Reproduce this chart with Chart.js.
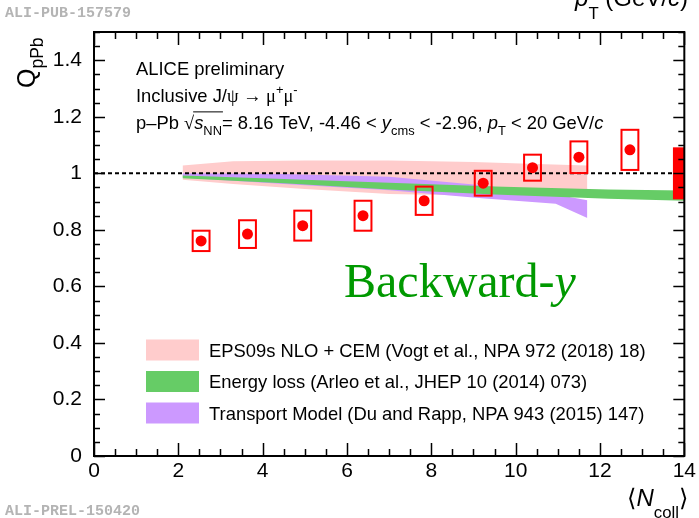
<!DOCTYPE html>
<html>
<head>
<meta charset="utf-8">
<title>Inclusive J/psi Q_pPb vs Ncoll</title>
<script src="https://cdn.jsdelivr.net/npm/chart.js@4.4.0/dist/chart.umd.min.js"></script>
<style>
  html, body { margin: 0; padding: 0; background: #fff; }
  #wrap { width: 699px; height: 518px; }
</style>
</head>
<body>
<div id="wrap"><canvas id="qppb" width="699" height="518"></canvas></div>
<script>
// ALICE points: <Ncoll>, Q_pPb and systematic half-height of the boxes
const nColl = [2.54, 3.64, 4.95, 6.38, 7.83, 9.23, 10.4, 11.5, 12.71];
const qpPb  = [0.761, 0.785, 0.815, 0.85, 0.903, 0.965, 1.02, 1.057, 1.083];
const qSyst = [0.036, 0.049, 0.053, 0.053, 0.05, 0.044, 0.046, 0.056, 0.071];
const boxHalfWidth = 0.2;
const globalX = 14, globalHalf = 0.092, globalHalfWidth = 0.27;

// EPS09s NLO + CEM
const epsN    = [2.1, 3.3, 5, 7, 9, 10.5, 11.7];
const epsLow  = [0.977, 0.962, 0.945, 0.927, 0.922, 0.93, 0.94];
const epsHigh = [1.028, 1.043, 1.045, 1.045, 1.04, 1.033, 1.028];

// Energy loss
const elossN    = [2.1, 4.5, 7, 9.5, 12.2, 14];
const elossLow  = [0.983, 0.965, 0.943, 0.925, 0.91, 0.903];
const elossHigh = [0.992, 0.98, 0.967, 0.953, 0.943, 0.939];

// Transport model
const transpN    = [2.1, 4.5, 7, 9.2, 10.95, 11.7];
const transpLow  = [0.985, 0.962, 0.94, 0.912, 0.892, 0.842];
const transpHigh = [1.0, 0.998, 0.988, 0.958, 0.925, 0.905];

const xTicks = [0, 2, 4, 6, 8, 10, 12, 14];
const yTicks = [0, 0.2, 0.4, 0.6, 0.8, 1, 1.2, 1.4];

const COL_EPS = '#ffcccc', COL_ELOSS = '#66cc66', COL_TRANSP = '#cc99ff', COL_DATA = '#ff0000';

const legendRows = [
  { color: COL_EPS,    text: 'EPS09s NLO + CEM (Vogt et al., NPA 972 (2018) 18)' },
  { color: COL_ELOSS,  text: 'Energy loss (Arleo et al., JHEP 10 (2014) 073)' },
  { color: COL_TRANSP, text: 'Transport Model (Du and Rapp, NPA 943 (2015) 147)' }
];

const SANS = '"Liberation Sans", Arial, Helvetica, sans-serif';
const SERIF = '"Liberation Serif", "Times New Roman", serif';
const TXT = 18.4;

// two line datasets, the upper one filled down to the lower one
function band(label, xs, lo, hi, color, order) {
  return [
    { label: label + ' low', data: xs.map((x, i) => ({ x: x, y: lo[i] })),
      borderWidth: 0, borderColor: 'transparent', pointRadius: 0, fill: false, order: order, tension: 0 },
    { label: label, data: xs.map((x, i) => ({ x: x, y: hi[i] })),
      borderWidth: 0, borderColor: 'transparent', pointRadius: 0, backgroundColor: color,
      fill: '-1', order: order, tension: 0 }
  ];
}

// text with sub/superscripts, italic and serif runs
function drawRich(ctx, x, y, runs, size, align) {
  const fontOf = r => {
    const fs = (r.sub || r.sup) ? size * 0.7 : size;
    return (r.it ? 'italic ' : '') + fs + 'px ' + (r.serif ? SERIF : SANS);
  };
  const widths = runs.map(r => { ctx.font = fontOf(r); return ctx.measureText(r.t).width; });
  const total = widths.reduce((a, b) => a + b, 0);
  let cx = align === 'right' ? x - total : x;
  let overStart = null, overEnd = null;
  ctx.textAlign = 'left';
  ctx.textBaseline = 'alphabetic';
  runs.forEach((r, i) => {
    ctx.font = fontOf(r);
    const dy = r.sub ? size * (r.drop || 0.3) : (r.sup ? -size * 0.42 : 0);
    ctx.fillText(r.t, cx, y + dy);
    if (r.over) {
      if (overStart === null) overStart = cx;
      overEnd = cx + widths[i];
    }
    cx += widths[i];
  });
  if (overStart !== null) {
    ctx.save();
    ctx.lineWidth = 1;
    ctx.strokeStyle = ctx.fillStyle;
    ctx.beginPath();
    ctx.moveTo(overStart - 1, y - size * 0.93);
    ctx.lineTo(overEnd + 1, y - size * 0.93);
    ctx.stroke();
    ctx.restore();
  }
}

// systematic boxes and the global box at the right edge
const boxesPlugin = {
  id: 'boxes',
  afterDatasetsDraw(chart) {
    const ctx = chart.ctx, xs = chart.scales.x, ys = chart.scales.y, area = chart.chartArea;
    ctx.save();
    ctx.beginPath();
    ctx.rect(area.left, area.top, area.right - area.left, area.bottom - area.top);
    ctx.clip();
    ctx.strokeStyle = COL_DATA;
    ctx.lineWidth = 2;
    nColl.forEach((n, i) => {
      const x0 = xs.getPixelForValue(n - boxHalfWidth), x1 = xs.getPixelForValue(n + boxHalfWidth);
      const y0 = ys.getPixelForValue(qpPb[i] + qSyst[i]), y1 = ys.getPixelForValue(qpPb[i] - qSyst[i]);
      ctx.strokeRect(x0, y0, x1 - x0, y1 - y0);
    });
    ctx.fillStyle = COL_DATA;
    const gx0 = xs.getPixelForValue(globalX - globalHalfWidth), gx1 = xs.getPixelForValue(globalX + globalHalfWidth);
    const gy0 = ys.getPixelForValue(1 + globalHalf), gy1 = ys.getPixelForValue(1 - globalHalf);
    ctx.fillRect(gx0, gy0, gx1 - gx0, gy1 - gy0);
    ctx.restore();
  }
};

// frame with inward ticks on all four sides, plus the labels and legend
const framePlugin = {
  id: 'frame',
  afterDraw(chart) {
    const ctx = chart.ctx, xs = chart.scales.x, ys = chart.scales.y, a = chart.chartArea;
    ctx.save();
    ctx.strokeStyle = '#000';
    ctx.lineWidth = 2;
    ctx.strokeRect(a.left, a.top, a.right - a.left, a.bottom - a.top);
    ctx.lineWidth = 1.5;
    ctx.beginPath();
    for (let k = 0; k <= 28; k++) {
      const v = k * 0.5, px = Math.round(xs.getPixelForValue(v)) + 0.5;
      const len = (k % 4 === 0) ? 13 : 7;
      ctx.moveTo(px, a.bottom); ctx.lineTo(px, a.bottom - len);
      ctx.moveTo(px, a.top); ctx.lineTo(px, a.top + len);
    }
    for (let k = 0; k <= 30; k++) {
      const v = k * 0.05, py = Math.round(ys.getPixelForValue(v)) + 0.5;
      const len = (k % 4 === 0) ? 11 : 6;
      ctx.moveTo(a.left, py); ctx.lineTo(a.left + len, py);
      ctx.moveTo(a.right, py); ctx.lineTo(a.right - len, py);
    }
    ctx.stroke();

    ctx.fillStyle = '#000';
    drawRich(ctx, 136, 75, [{ t: 'ALICE preliminary' }], TXT);
    drawRich(ctx, 136, 102, [
      { t: 'Inclusive J/' }, { t: 'ψ', serif: true }, { t: ' → ', serif: true },
      { t: 'μ', serif: true }, { t: '+', sup: true }, { t: 'μ', serif: true }, { t: '-', sup: true }
    ], TXT);
    drawRich(ctx, 136, 129, [
      { t: 'p–Pb ' }, { t: '√', serif: true }, { t: 's', it: true, over: true }, { t: 'NN', sub: true, over: true },
      { t: '= 8.16 TeV, -4.46 < ' }, { t: 'y', it: true }, { t: 'cms', sub: true },
      { t: ' < -2.96, ' }, { t: 'p', it: true }, { t: 'T', sub: true },
      { t: ' < 20 GeV/' }, { t: 'c', it: true }
    ], TXT);

    // legend
    legendRows.forEach((row, i) => {
      const cy = 350 + i * 31.5;
      ctx.fillStyle = row.color;
      ctx.fillRect(146, cy - 10.5, 53, 21);
      ctx.fillStyle = '#000';
      drawRich(ctx, 209, cy + 6.5, [{ t: row.text }], TXT);
    });

    // rapidity tag
    ctx.fillStyle = '#009900';
    ctx.font = '48px ' + SERIF;
    ctx.textAlign = 'left';
    ctx.fillText('Backward-', 344, 297);
    const bw = ctx.measureText('Backward-').width;
    ctx.font = 'italic 48px ' + SERIF;
    ctx.fillText('y', 344 + bw, 297);

    // axis titles
    ctx.fillStyle = '#000';
    drawRich(ctx, 688, 6, [
      { t: 'p', it: true }, { t: 'T', sub: true, drop: 0.55 }, { t: ' (GeV/' }, { t: 'c', it: true }, { t: ')' }
    ], 24, 'right');
    drawRich(ctx, 688, 506, [
      { t: '⟨' }, { t: 'N', it: true }, { t: 'coll', sub: true, drop: 0.48 }, { t: '⟩' }
    ], 24, 'right');
    ctx.save();
    ctx.translate(35, 88);
    ctx.rotate(-Math.PI / 2);
    drawRich(ctx, 0, 0, [{ t: 'Q' }, { t: 'pPb', sub: true, drop: 0.3 }], 25);
    ctx.restore();

    // figure ids
    ctx.fillStyle = '#b4b4b4';
    ctx.font = 'bold 15px "Liberation Mono", "DejaVu Sans Mono", monospace';
    ctx.textBaseline = 'middle';
    ctx.fillText('ALI-PUB-157579', 5, 13);
    ctx.fillText('ALI-PREL-150420', 5, 511);
    ctx.restore();
  }
};

const datasets = [].concat(
  band('EPS09s NLO + CEM', epsN, epsLow, epsHigh, COL_EPS, 4),
  band('Transport Model', transpN, transpLow, transpHigh, COL_TRANSP, 3),
  band('Energy loss', elossN, elossLow, elossHigh, COL_ELOSS, 2),
  [{
    label: 'unity', data: [{ x: 0, y: 1 }, { x: 14, y: 1 }],
    borderColor: '#000', borderWidth: 2, borderDash: [4, 3], pointRadius: 0, fill: false, order: 1
  }, {
    label: 'ALICE', data: nColl.map((n, i) => ({ x: n, y: qpPb[i] })),
    showLine: false, pointRadius: 5.5, pointBackgroundColor: COL_DATA, pointBorderWidth: 0,
    borderColor: COL_DATA, fill: false, order: 0
  }]
);

const tickFont = { family: SANS, size: 21 };

new Chart(document.getElementById('qppb'), {
  type: 'line',
  data: { datasets: datasets },
  options: {
    responsive: false,
    animation: false,
    devicePixelRatio: 1,
    layout: { padding: { top: 32, right: 13, left: 0, bottom: 0 } },
    plugins: { legend: { display: false }, tooltip: { enabled: false } },
    scales: {
      x: {
        type: 'linear', min: 0, max: 14,
        grid: { display: false, drawTicks: false }, border: { display: false },
        afterBuildTicks: s => { s.ticks = xTicks.map(v => ({ value: v })); },
        afterFit: s => { s.height = 62; },
        ticks: { color: '#000', font: tickFont, padding: 3, maxRotation: 0, autoSkip: false,
                 callback: v => String(v) }
      },
      y: {
        type: 'linear', min: 0, max: 1.5,
        grid: { display: false, drawTicks: false }, border: { display: false },
        afterBuildTicks: s => { s.ticks = yTicks.map(v => ({ value: v })); },
        afterFit: s => { s.width = 94; },
        ticks: { color: '#000', font: tickFont, padding: 12, autoSkip: false,
                 callback: v => String(v) }
      }
    }
  },
  plugins: [boxesPlugin, framePlugin]
});
</script>
</body>
</html>
